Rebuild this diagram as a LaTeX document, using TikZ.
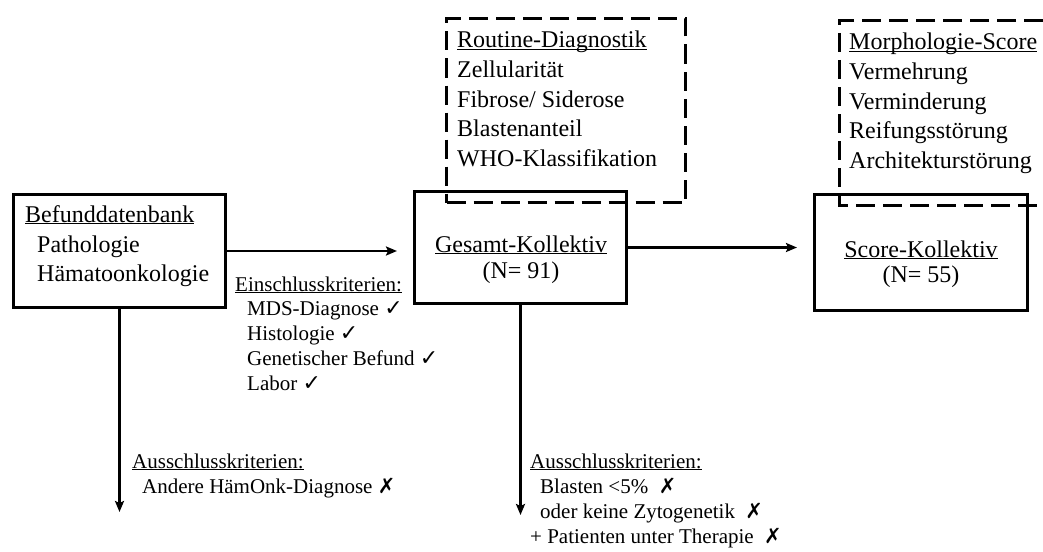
\documentclass[tikz,border=0pt]{standalone}
\usepackage{fontspec}
\setmainfont{Liberation Serif}
\newfontfamily\symfont{DejaVu Sans}
\usetikzlibrary{arrows.meta}
\newcommand\hd[1]{\underline{\smash{#1}}}
\newcommand\xok{{\symfont\fontsize{22}{22}\selectfont ✓}}
\newcommand\xno{{\symfont\fontsize{21}{21}\selectfont ✗}}
\begin{document}
\begin{tikzpicture}[x=1pt,y=-1pt,
  box/.style={draw, line width=3pt, inner sep=0pt},
  dbox/.style={draw, line width=3pt, dash pattern=on 19pt off 8pt},
  arr/.style={line width=2.5pt, -{Stealth[length=11pt,width=9pt,inset=2pt]}},
  big/.style={inner sep=0pt, font=\fontsize{24}{29}\selectfont},
  small/.style={inner sep=0pt, font=\fontsize{21}{25}\selectfont}]
\useasboundingbox (0,0) rectangle (1043,551);

% boxes
\node[box, minimum width=212pt, minimum height=113pt] (befund) at (119.5,251) {};
\node[box, minimum width=212pt, minimum height=112pt] (gesamt) at (520.5,247.5) {};
\node[box, minimum width=213pt, minimum height=116pt] (score) at (921,252.5) {};
\node[dbox, minimum width=239pt, minimum height=184pt] (routine) at (566,110.5) {};
\coordinate (m1) at (1043,20.5);
\coordinate (m2) at (839.5,20.5);
\coordinate (m3) at (839.5,205.5);
\coordinate (m4) at (1043,205.5);
\draw[dbox] (m1) -- (m2) -- (m3) -- (m4);

% box texts
\node[big, anchor=base west] (t1) at (25,222) {\hd{Befunddatenbank}};
\node[big, anchor=base west] (t2) at (37,252) {Pathologie};
\node[big, anchor=base west] (t3) at (37,281) {Hämatoonkologie};

\node[big, anchor=base] (g1) at (521,252) {\hd{Gesamt-Kollektiv}};
\node[big, anchor=base] (g2) at (521,278) {(N= 91)};

\node[big, anchor=base] (s1) at (921,257) {\hd{Score-Kollektiv}};
\node[big, anchor=base] (s2) at (921,282) {(N= 55)};

\node[big, anchor=base west] (r1) at (457,48) {\hd{Routine-Diagnostik}};
\node[big, anchor=base west] (r2) at (457,77.5) {Zellularität};
\node[big, anchor=base west] (r3) at (457,107) {Fibrose/ Siderose};
\node[big, anchor=base west] (r4) at (457,136.5) {Blastenanteil};
\node[big, anchor=base west] (r5) at (457,166) {WHO-Klassifikation};

\node[big, anchor=base west] (p1) at (849,50) {\hd{Morphologie-Score}};
\node[big, anchor=base west] (p2) at (849,79.5) {Vermehrung};
\node[big, anchor=base west] (p3) at (849,109) {Verminderung};
\node[big, anchor=base west] (p4) at (849,138.5) {Reifungsstörung};
\node[big, anchor=base west] (p5) at (849,168) {Architekturstörung};

% criteria
\node[small, anchor=base west] (e1) at (235,291) {\hd{Einschlusskriterien:}};
\node[small, anchor=base west] (e2) at (247,315.5) {MDS-Diagnose \xok};
\node[small, anchor=base west] (e3) at (247,340.5) {Histologie \xok};
\node[small, anchor=base west] (e4) at (247,365) {Genetischer Befund \xok};
\node[small, anchor=base west] (e5) at (247,390) {Labor \xok};

\node[small, anchor=base west] (a1) at (132,468) {\hd{Ausschlusskriterien:}};
\node[small, anchor=base west] (a2) at (142,493) {Andere HämOnk-Diagnose \xno};

\node[small, anchor=base west] (b1) at (530,468) {\hd{Ausschlusskriterien:}};
\node[small, anchor=base west] (b2) at (540,493) {Blasten <5\%\ \ \xno};
\node[small, anchor=base west] (b3) at (540,518) {oder keine Zytogenetik\ \ \xno};
\node[small, anchor=base west] (b4) at (530,543) {+ Patienten unter Therapie\ \ \xno};

% connectors
\coordinate (befundend) at (119.5,512);
\coordinate (gesamtend) at (520.5,515);
\draw[arr] (befund.east) -- ([xshift=-16pt]befund.east -| gesamt.west);
\draw[arr] (gesamt.east) -- ([xshift=-16pt]gesamt.east -| score.west);
\draw[arr] (befund.south) -- (befundend);
\draw[arr] (gesamt.south) -- (gesamtend);
\end{tikzpicture}
\end{document}
